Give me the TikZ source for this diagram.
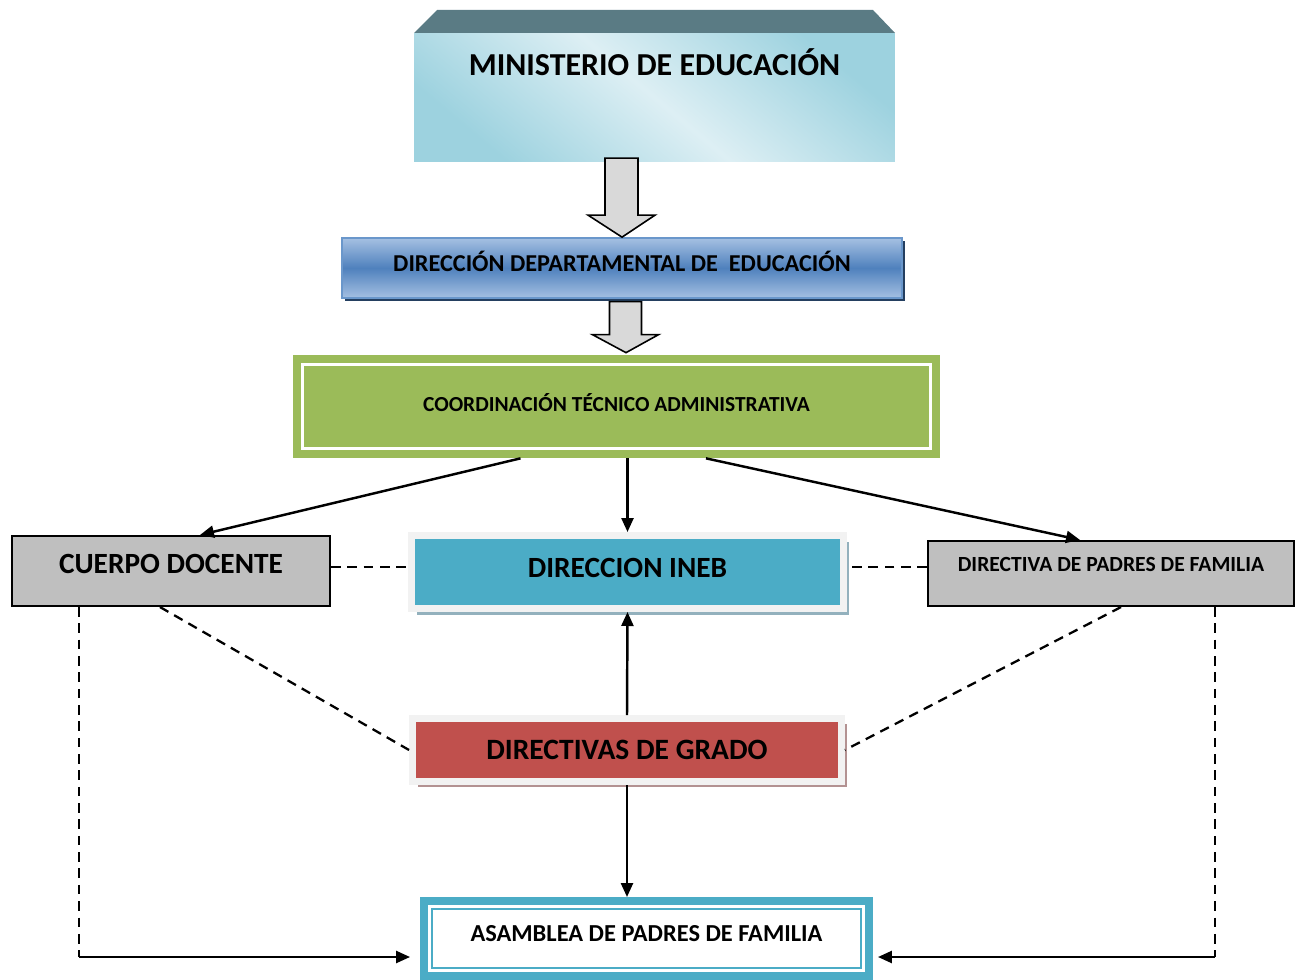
\documentclass[tikz,border=0pt]{standalone}
\usepackage{fontspec}
\setmainfont{Carlito}
\usetikzlibrary{arrows.meta,calc,shadows}
\definecolor{mintop}{HTML}{5A7B84}
\definecolor{minblue}{HTML}{9DD2DF}
\definecolor{minlight}{HTML}{DDEFF4}
\definecolor{depblue}{HTML}{4F81BD}
\definecolor{deplight}{HTML}{A5C0E2}
\definecolor{depborder}{HTML}{6A97CB}
\definecolor{depshadow}{HTML}{243F60}
\definecolor{coordgreen}{HTML}{9BBB59}
\definecolor{inebblue}{HTML}{4BACC6}
\definecolor{inebshadow}{HTML}{93B1BD}
\definecolor{gradored}{HTML}{C0504D}
\definecolor{gradoshadow}{HTML}{B39292}
\definecolor{framegray}{HTML}{F2F2F2}
\definecolor{boxgray}{HTML}{BFBFBF}
\definecolor{arrowgray}{HTML}{D9D9D9}
\tikzset{
  arr/.style={-{Triangle[length=0.28cm,width=0.24cm]},line width=1.4pt},
  dashline/.style={dash pattern=on 5.5pt off 3.8pt,line width=1.3pt},
  blockarr/.style={draw=black,fill=arrowgray,line width=0.9pt,line join=miter},
  graybox/.style={draw=black,fill=boxgray,line width=1.2pt,font=\bfseries},
  framebox/.style={draw=framegray,line width=0.14cm,font=\bfseries}
}
\begin{document}
\begin{tikzpicture}[x=0.02cm,y=-0.02cm]
\useasboundingbox (0,0) rectangle (1295,980);
\fill[mintop] (437,10) -- (873,10) -- (895,33) -- (414,33) -- cycle;
\node[top color=minblue,bottom color=minblue,middle color=minlight,shading angle=-40,
  minimum width=9.62cm,minimum height=2.58cm,inner sep=0pt,text height=0.84cm,text depth=1.74cm,
  font=\bfseries\fontsize{18.2}{20}\selectfont] (min) at (654.5,97.5) {MINISTERIO DE EDUCACIÓN};
\node[draw=depborder,line width=1pt,top color=deplight,bottom color=deplight,middle color=depblue,
  drop shadow={shadow xshift=1.7pt,shadow yshift=-1.7pt,fill=depshadow,opacity=1},
  minimum width=11.2cm,minimum height=1.2cm,text height=8.7pt,text depth=4.5pt,
  font=\bfseries\fontsize{13.8}{16}\selectfont] (dep) at (622,268) {DIRECCIÓN DEPARTAMENTAL DE \ EDUCACIÓN};
\draw[blockarr] (dep.north) -- ++(-34,-22) -- ++(17,0) -- ++(0,-57) -- ++(33,0) -- ++(0,57) -- ++(17,0) -- cycle;
\node[fill=coordgreen,minimum width=12.94cm,minimum height=2.06cm,text height=7.7pt,text depth=1.7pt,
  font=\bfseries\fontsize{12.2}{14}\selectfont] (coord) at (616.5,406.5) {COORDINACIÓN TÉCNICO ADMINISTRATIVA};
\draw[white,line width=1.7pt] ($(coord.north west)+(10,10)$) rectangle ($(coord.south east)+(-10,-10)$);
\draw[blockarr] ($(coord.north)+(9.5,-2)$) -- ++(-33.5,-18) -- ++(17,0) -- ++(0,-33) -- ++(32,0) -- ++(0,33) -- ++(17,0) -- cycle;
\node[framebox,fill=inebblue,minimum width=8.64cm,minimum height=1.46cm,
  drop shadow={shadow xshift=3pt,shadow yshift=-3.5pt,fill=inebshadow,opacity=1},
  text height=10.5pt,text depth=4.5pt,font=\bfseries\fontsize{16.7}{19}\selectfont] (ineb) at (627.5,572) {DIRECCION INEB};
\node[framebox,fill=gradored,minimum width=8.58cm,minimum height=1.26cm,
  drop shadow={shadow xshift=3pt,shadow yshift=-3pt,fill=gradoshadow,opacity=1},
  text height=10.6pt,text depth=0pt,font=\bfseries\fontsize{16.8}{19}\selectfont] (grado) at (627,750) {DIRECTIVAS DE GRADO};
\node[graybox,minimum width=6.36cm,minimum height=1.4cm,text height=10.5pt,text depth=7.4pt,
  font=\bfseries\fontsize{16.7}{19}\selectfont] (cuerpo) at (171,571) {CUERPO DOCENTE};
\node[graybox,minimum width=7.32cm,minimum height=1.3cm,text height=7.8pt,text depth=10.2pt,
  font=\bfseries\fontsize{12.3}{14}\selectfont] (dir) at (1111,573.5) {DIRECTIVA DE PADRES DE FAMILIA};
\node[draw=inebblue,line width=0.16cm,fill=white,minimum width=8.9cm,minimum height=1.5cm,
  text height=8.8pt,text depth=5.1pt,font=\bfseries\fontsize{13.9}{16}\selectfont] (asam) at (646.5,938.5) {ASAMBLEA DE PADRES DE FAMILIA};
\draw[inebblue,line width=1.1pt] ($(asam.north west)+(12,12)$) rectangle ($(asam.south east)+(-12,-12)$);
\draw[arr] ($(coord.south)+(-96,0)$) -- ($(cuerpo.north)+(29,0)$);
\draw[arr] (coord.south -| ineb.north) -- (ineb.north);
\draw[arr] ($(coord.south)+(89.5,0)$) -- ($(dir.north)+(-31,0)$);
\coordinate (cd) at ($(cuerpo.east)+(0,-4)$);
\coordinate (dd) at ($(dir.west)+(0,-6.5)$);
\draw[dashline] (cd) -- (cd -| ineb.west);
\draw[dashline] (dd) -- (dd -| ineb.east);
\draw[dashline] ($(cuerpo.south)+(-11,0)$) -- (grado.west);
\draw[dashline] ($(dir.south)+(10,0)$) -- (grado.east);
\draw[arr] (grado.north) -- (ineb.south);
\draw[arr] (grado.south) -- (grado.south |- asam.north);
\coordinate (lc) at (79,957);
\coordinate (rc) at (1215,957);
\draw[dashline] (cuerpo.south -| lc) -- (lc);
\draw[arr,shorten >=0.2cm] (lc) -- (lc -| asam.west);
\draw[dashline] (dir.south -| rc) -- (rc);
\draw[arr,shorten >=0.1cm] (rc) -- (rc -| asam.east);
\end{tikzpicture}
\end{document}
